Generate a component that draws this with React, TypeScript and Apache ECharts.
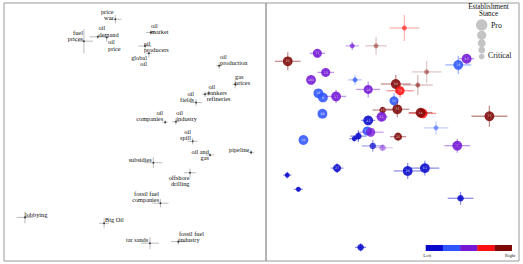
import React, { useEffect, useRef } from 'react';
import * as echarts from 'echarts';

// ---------- Left panel: terms (position, uncertainty) ----------
const termNames = [
  'price\nwar', 'fuel\nprices', 'oil\ndemand', 'oil\nprice', 'oil\nmarket', 'oil\nproducers',
  'global\noil', 'oil\nproduction', 'gas\nprices', 'oil\ntankers', 'refineries', 'oil\nfields',
  'oil\ncompanies', 'oil\nindustry', 'oil\nspill', 'oil and\ngas', 'pipeline', 'subsidies',
  'offshore\ndrilling', 'fossil fuel\ncompanies', 'lobbying', 'Big Oil', 'tar sands', 'fossil fuel\nindustry',
];
const termX = [42.5, 30.5, 35.8, 39.2, 56.0, 53.8, 55.3, 82.1, 88.2, 78.0, 76.7, 73.3, 61.5, 65.6, 72.0, 78.6, 94.3, 57.0, 71.0, 59.7, 8.0, 38.2, 55.7, 66.5];
const termY = [93.7, 85.2, 86.9, 86.6, 88.6, 83.3, 80.5, 75.7, 68.5, 65.0, 64.6, 61.4, 53.8, 54.0, 46.4, 41.1, 42.1, 38.1, 34.2, 22.4, 16.9, 14.6, 6.9, 7.5];
const termErrX = [2.3, 3.4, 3.2, 0.8, 1.9, 2.5, 1.1, 1.1, 1.1, 1.1, 1.1, 2.3, 1.1, 1.5, 1.9, 1.5, 1.1, 3.4, 2.3, 3.1, 3.2, 1.9, 3.4, 2.7];
const termErrY = [1.6, 4.7, 0.8, 1.6, 0.8, 1.2, 1.6, 1.2, 1.6, 1.0, 1.0, 1.4, 0.8, 1.2, 1.2, 0.8, 0.8, 2.1, 1.6, 1.6, 2.3, 1.9, 2.3, 1.2];

// label placement relative to the point (pixels): [dx, dy, align]
const termLabelPlacement: [number, number, string][] = [
  [-1.8, -11.1, 'right'], [-1, -11.8, 'right'], [0.8, -12.2, 'left'], [1.3, 1.1, 'left'],
  [0.3, -10.4, 'left'], [-1, -5.6, 'left'], [-2, 1.1, 'right'], [1, -12.8, 'left'],
  [0, -11.4, 'left'], [0.2, -10.4, 'left'], [1.7, 1.5, 'left'], [-2, -12.2, 'right'],
  [-2, -12.8, 'right'], [0.5, -12.8, 'left'], [-1.7, -12.8, 'right'], [-1, -6.9, 'right'],
  [-1.7, -5.9, 'right'], [-1.6, -6.3, 'right'], [-0.5, 1.1, 'right'], [-1.3, -13.1, 'right'],
  [0, -5.9, 'left'], [1, -6.9, 'left'], [-1.7, -7.2, 'right'], [0.7, -11.5, 'left'],
];

// ---------- Right panel: sources ----------
const sourceLabels = [
  '21', '71', '', '', '', '13', '101', '', '18', '9', '17', '10', '50', '73', '', '', '18', '93', '56', '88',
  '15', '33', '', '64', '75', '61', '43', '60', '126', '', '', '', '25', '', '', '', '7', '27', '', '', '26', '61', '', '',
];
const sourceX = [8.6, 20.3, 34.1, 43.5, 54.7, 23.6, 17.8, 35.2, 20.7, 22.5, 27.7, 40.4, 51.3, 53.0, 60.0, 63.5, 76.0, 79.3, 50.6, 22.3,
  46.1, 51.9, 61.9, 61.1, 88.3, 45.7, 40.4, 14.8, 40.0, 41.4, 36.5, 34.9, 52.2, 67.2, 42.2, 46.1, 75.6, 28.1, 8.4, 12.8, 56.0, 62.8, 76.9, 37.4];
const sourceY = [77.4, 80.5, 83.4, 83.4, 90.3, 73.1, 70.2, 70.2, 65.0, 63.4, 63.8, 66.5, 68.6, 66.0, 68.2, 73.3, 76.0, 78.4, 62.1, 57.1,
  58.5, 58.8, 57.2, 57.5, 56.1, 55.9, 54.5, 46.9, 50.4, 49.9, 48.4, 47.4, 48.2, 51.6, 44.6, 43.9, 44.7, 36.0, 33.3, 27.8, 34.9, 36.0, 24.3, 5.3];
const sourceErrX = [5.1, 3.0, 2.6, 4.3, 5.9, 3.3, 0, 2.6, 0, 0, 4.0, 4.7, 5.9, 5.4, 5.9, 5.9, 5.1, 3.0, 1.2, 0,
  4.0, 4.7, 5.4, 4.7, 7.1, 2.4, 2.8, 0, 2.0, 5.1, 3.2, 2.0, 3.2, 4.9, 4.3, 4.0, 5.1, 2.5, 1.6, 1.8, 5.5, 5.7, 5.1, 2.2];
const sourceErrY = [3.5, 1.6, 1.6, 3.5, 5.0, 1.6, 0, 1.9, 0, 0, 2.6, 3.1, 3.5, 2.6, 3.9, 4.3, 3.5, 1.2, 2.9, 0,
  1.2, 3.1, 1.6, 1.2, 4.1, 1.6, 1.6, 0, 1.2, 1.2, 2.3, 1.2, 1.2, 2.7, 2.3, 1.2, 2.7, 1.9, 1.3, 0.8, 3.1, 2.9, 2.5, 1.6];
// political leaning: 0 Left ... 4 Right
const sourceLeaning = [4, 2, 2, 4, 3, 2, 2, 1, 1, 1, 2, 2, 4, 3, 4, 4, 1, 2, 1, 1,
  4, 4, 3, 4, 4, 2, 0, 1, 1, 2, 0, 0, 4, 1, 0, 2, 2, 0, 0, 0, 0, 0, 0, 0];
// establishment stance: 1 Critical ... 5 Pro
const sourceStance = [5, 4, 1, 1, 1, 4, 5, 1, 5, 5, 5, 4, 5, 4, 1, 1, 5, 5, 4, 5,
  2, 5, 5, 5, 5, 5, 5, 5, 4, 4, 2, 1, 3, 1, 2, 2, 5, 3, 1, 1, 5, 5, 2, 2];
const sourceCertainty = [1, 1, 0.8, 0.5, 0.7, 1, 1, 0.8, 1, 1, 1, 1, 1, 1, 0.6, 0.5, 1, 1, 1, 1,
  1, 1, 1, 1, 1, 1, 1, 1, 1, 0.9, 1, 1, 1, 0.6, 0.8, 0.5, 1, 1, 1, 1, 1, 1, 1, 1];

const leaningColors = ['#0a0acc', '#2f55ff', '#7418d6', '#ff1010', '#800808'];
const leaningTicks = ['Left', 'Right'];
const stanceSizes = [0, 5, 6.5, 8, 9, 9.8];
const stanceLegendTitle = 'Establishment\nStance';
const stanceTicks = ['Pro', 'Critical'];

const SERIF = '"Liberation Serif", "Times New Roman", serif';
const TERM_FONT = 6.3;

export default function App() {
  const ref = useRef<HTMLDivElement>(null);
  useEffect(() => {
    if (!ref.current) return;
    const chart = echarts.init(ref.current, undefined, { renderer: 'svg' });

    const termData = termNames.map((_, i) => [termX[i], termY[i], termErrX[i], termErrY[i], i]);
    const sourceData = sourceLabels.map((_, i) => [sourceX[i], sourceY[i], sourceErrX[i], sourceErrY[i], i]);

    const axisCommon = { type: 'value', min: 0, max: 100, show: false };

    const legendCircles = [
      { cy: 25, r: 5.7 }, { cy: 35.3, r: 4.6 }, { cy: 43.3, r: 4 }, { cy: 50, r: 3.4 }, { cy: 56.5, r: 2.8 },
    ];
    const barX0 = 425.7, barW = 17.2;

    const graphic: any[] = [
      {
        type: 'text', x: 488.5, y: 3.7,
        style: { text: stanceLegendTitle, font: `7.2px ${SERIF}`, fill: '#111', align: 'center', verticalAlign: 'top', lineHeight: 7.2 },
      },
      ...legendCircles.map((c) => ({
        type: 'circle', shape: { cx: 481.7, cy: c.cy, r: c.r }, style: { fill: '#c4c4c4' },
      })),
      { type: 'text', x: 491, y: 25, style: { text: stanceTicks[0], font: `7.8px ${SERIF}`, fill: '#111', align: 'left', verticalAlign: 'middle' } },
      { type: 'text', x: 488, y: 55, style: { text: stanceTicks[1], font: `7.8px ${SERIF}`, fill: '#111', align: 'left', verticalAlign: 'middle' } },
      ...leaningColors.map((col, k) => ({
        type: 'rect', shape: { x: barX0 + k * barW, y: 245, width: barW + 0.3, height: 6 }, style: { fill: col },
      })),
      { type: 'text', x: barX0 + 1.5, y: 255.7, style: { text: leaningTicks[0], font: `4.6px ${SERIF}`, fill: '#222', align: 'center', verticalAlign: 'middle' } },
      { type: 'text', x: barX0 + 5 * barW - 1.5, y: 255.7, style: { text: leaningTicks[1], font: `4.6px ${SERIF}`, fill: '#222', align: 'center', verticalAlign: 'middle' } },
    ];

    chart.setOption({
      animation: false,
      grid: [
        { left: 4, top: 3, width: 262, height: 258, show: true, borderColor: '#9a9a9a', borderWidth: 1 },
        { left: 266, top: 3, width: 253, height: 258, show: true, borderColor: '#9a9a9a', borderWidth: 1 },
      ],
      xAxis: [{ ...axisCommon, gridIndex: 0 }, { ...axisCommon, gridIndex: 1 }],
      yAxis: [{ ...axisCommon, gridIndex: 0 }, { ...axisCommon, gridIndex: 1 }],
      graphic,
      series: [
        {
          type: 'custom',
          xAxisIndex: 0,
          yAxisIndex: 0,
          clip: false,
          data: termData,
          renderItem: (params: any, api: any) => {
            const i = api.value(4);
            const c = api.coord([api.value(0), api.value(1)]);
            const s = api.size([api.value(2), api.value(3)]);
            const [dx, dy, align] = termLabelPlacement[i];
            const barStyle = { stroke: '#bcbcbc', lineWidth: 1 };
            return {
              type: 'group',
              children: [
                { type: 'line', shape: { x1: c[0] - s[0], y1: c[1], x2: c[0] + s[0], y2: c[1] }, style: barStyle },
                { type: 'line', shape: { x1: c[0], y1: c[1] - s[1], x2: c[0], y2: c[1] + s[1] }, style: barStyle },
                { type: 'circle', shape: { cx: c[0], cy: c[1], r: 0.9 }, style: { fill: '#333' } },
                {
                  type: 'text', x: c[0] + dx, y: c[1] + dy,
                  style: { text: termNames[i], font: `${TERM_FONT}px ${SERIF}`, fill: '#111', align, verticalAlign: 'top', lineHeight: TERM_FONT },
                },
              ],
            };
          },
        },
        {
          type: 'custom',
          xAxisIndex: 1,
          yAxisIndex: 1,
          clip: false,
          data: sourceData,
          renderItem: (params: any, api: any) => {
            const i = api.value(4);
            const c = api.coord([api.value(0), api.value(1)]);
            const s = api.size([api.value(2), api.value(3)]);
            const col = leaningColors[sourceLeaning[i]];
            const r = stanceSizes[sourceStance[i]] / 2;
            const a = sourceCertainty[i];
            const barStyle = { stroke: col, lineWidth: 1.3, opacity: 0.45 * a };
            const children: any[] = [];
            if (s[0] > 0) children.push({ type: 'line', shape: { x1: c[0] - s[0], y1: c[1], x2: c[0] + s[0], y2: c[1] }, style: barStyle });
            if (s[1] > 0) children.push({ type: 'line', shape: { x1: c[0], y1: c[1] - s[1], x2: c[0], y2: c[1] + s[1] }, style: barStyle });
            children.push({ type: 'circle', shape: { cx: c[0], cy: c[1], r }, style: { fill: col, opacity: 0.88 * a } });
            if (sourceLabels[i]) {
              children.push({
                type: 'text', x: c[0], y: c[1],
                style: { text: sourceLabels[i], font: '3.2px "DejaVu Sans", sans-serif', fill: '#ffffff', opacity: 0.8, align: 'center', verticalAlign: 'middle' },
              });
            }
            return { type: 'group', children };
          },
        },
      ],
    });
    return () => chart.dispose();
  }, []);

  return <div ref={ref} style={{ position: 'fixed', left: 0, top: 0, width: 523, height: 264, background: '#fff' }} />;
}
